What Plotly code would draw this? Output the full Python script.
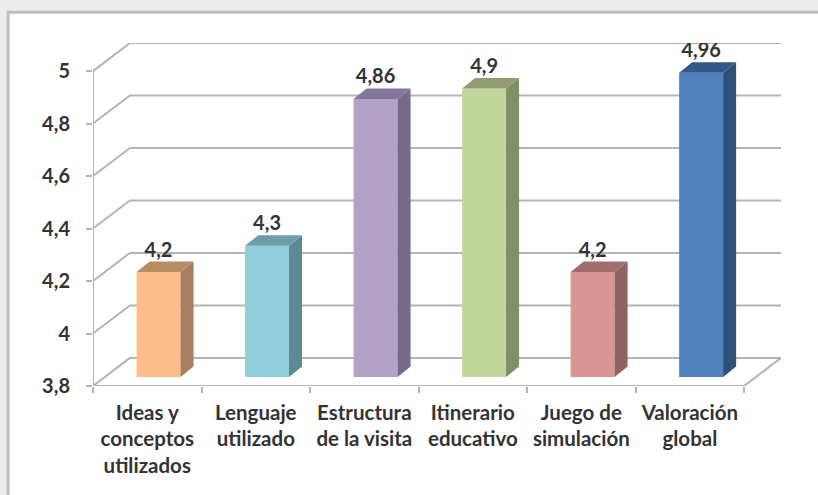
import plotly.graph_objects as go

categories = [
    "Ideas y<br>conceptos<br>utilizados",
    "Lenguaje<br>utilizado",
    "Estructura<br>de la visita",
    "Itinerario<br>educativo",
    "Juego de<br>simulación",
    "Valoración<br>global",
]
values = [4.2, 4.3, 4.86, 4.9, 4.2, 4.96]
value_labels = ["4,2", "4,3", "4,86", "4,9", "4,2", "4,96"]
y_ticks = [3.8, 4, 4.2, 4.4, 4.6, 4.8, 5]
y_labels = ["3,8", "4", "4,2", "4,4", "4,6", "4,8", "5"]
front_colors = ["#fcbf8c", "#92cddc", "#b2a2c7", "#c3d69b", "#d99694", "#4f81bd"]
side_colors = ["#a97e5c", "#5f8794", "#76698a", "#818e66", "#8f6362", "#2f5079"]
top_colors = ["#b98c63", "#6e9ca9", "#84769a", "#8f9d70", "#a06f6d", "#34578a"]

# fake 3d: the wall sits behind the front plane by this much (data units)
WALL_DX, WALL_DY = 0.34, 0.107
BAR_SHIFT_X, BAR_SHIFT_Y = 0.104, 0.034
BAR_DX, BAR_DY = 0.12, 0.04
BAR_WIDTH = 0.405
BASE = y_ticks[0]
AXIS_COLOR = "#b4b4b4"
FONT = "Lato"
TEXT_COLOR = "#333333"

fig = go.Figure()

centers = list(range(len(values)))
fig.add_trace(
    go.Bar(
        x=[c + BAR_SHIFT_X for c in centers],
        y=[v - BASE for v in values],
        base=BASE + BAR_SHIFT_Y,
        width=BAR_WIDTH,
        marker={"color": front_colors, "line": {"width": 0}},
        hoverinfo="skip",
    )
)

for c, v, side, top in zip(centers, values, side_colors, top_colors):
    left = c + BAR_SHIFT_X - BAR_WIDTH / 2
    right = c + BAR_SHIFT_X + BAR_WIDTH / 2
    low = BASE + BAR_SHIFT_Y
    high = v + BAR_SHIFT_Y
    fig.add_trace(
        go.Scatter(
            x=[right, right + BAR_DX, right + BAR_DX, right, right],
            y=[low, low + BAR_DY, high + BAR_DY, high, low],
            mode="lines",
            fill="toself",
            fillcolor=side,
            line={"width": 0},
            hoverinfo="skip",
        )
    )
    fig.add_trace(
        go.Scatter(
            x=[left, left + BAR_DX, right + BAR_DX, right, left],
            y=[high, high + BAR_DY, high + BAR_DY, high, high],
            mode="lines",
            fill="toself",
            fillcolor=top,
            line={"width": 0},
            hoverinfo="skip",
        )
    )

fig.add_trace(
    go.Scatter(
        x=[c + BAR_SHIFT_X for c in centers],
        y=[v + BAR_SHIFT_Y + BAR_DY for v in values],
        text=value_labels,
        mode="text",
        textposition="top center",
        textfont={"family": FONT, "size": 20, "color": TEXT_COLOR, "weight": 700},
        hoverinfo="skip",
    )
)

x0, x1 = -0.5, len(values) - 0.5

# panel behind everything
shapes = [
    {
        "type": "rect",
        "xref": "paper",
        "yref": "paper",
        "x0": -0.1235,
        "x1": 1.1,
        "y0": -0.4,
        "y1": 1.09,
        "fillcolor": "white",
        "line": {"color": "#bdbdbd", "width": 3},
        "layer": "below",
    }
]
# gridlines go under the bars, so they have to be shapes
for t in y_ticks:
    pts = [(x0, t), (x0 + WALL_DX, t + WALL_DY), (x1 + WALL_DX, t + WALL_DY)]
    for (ax, ay), (bx, by) in zip(pts, pts[1:]):
        shapes.append(
            {
                "type": "line",
                "x0": ax,
                "y0": ay,
                "x1": bx,
                "y1": by,
                "line": {"color": AXIS_COLOR, "width": 2},
                "layer": "below",
            }
        )
# floor edge, front axis lines
for ax, ay, bx, by in [
    (x1, BASE, x1 + WALL_DX, BASE + WALL_DY),
    (x0, BASE, x1, BASE),
    (x0, BASE, x0, y_ticks[-1]),
]:
    shapes.append(
        {
            "type": "line",
            "x0": ax,
            "y0": ay,
            "x1": bx,
            "y1": by,
            "line": {"color": AXIS_COLOR, "width": 2},
            "layer": "below",
        }
    )

fig.update_layout(
    width=818,
    height=495,
    margin={"l": 93, "r": 37, "t": 43, "b": 109},
    paper_bgcolor="#ececec",
    plot_bgcolor="rgba(0,0,0,0)",
    showlegend=False,
    shapes=shapes,
    xaxis={
        "range": [x0, x1 + WALL_DX],
        "tickvals": centers,
        "ticktext": categories,
        "ticks": "",
        "showgrid": False,
        "zeroline": False,
        "showline": False,
        "tickangle": 0,
        "ticklabelstandoff": 12,
        "tickfont": {"family": FONT, "size": 20.5, "color": TEXT_COLOR, "weight": 700},
        "minor": {
            "tickvals": [c - 0.5 for c in centers] + [x1],
            "ticks": "outside",
            "ticklen": 6,
            "tickwidth": 1.5,
            "tickcolor": AXIS_COLOR,
            "showgrid": False,
        },
    },
    yaxis={
        "range": [BASE, y_ticks[-1] + WALL_DY],
        "tickvals": y_ticks,
        "ticktext": y_labels,
        "ticks": "outside",
        "ticklen": 6,
        "tickwidth": 1.5,
        "tickcolor": AXIS_COLOR,
        "showgrid": False,
        "zeroline": False,
        "showline": False,
        "ticklabelstandoff": 12,
        "tickfont": {"family": FONT, "size": 20, "color": TEXT_COLOR, "weight": 700},
    },
)

# the page's default body margin would push the chart 8px off
fig.write_html(
    "out.html",
    config={"displayModeBar": False},
    post_script="document.body.style.margin = '0';",
)
